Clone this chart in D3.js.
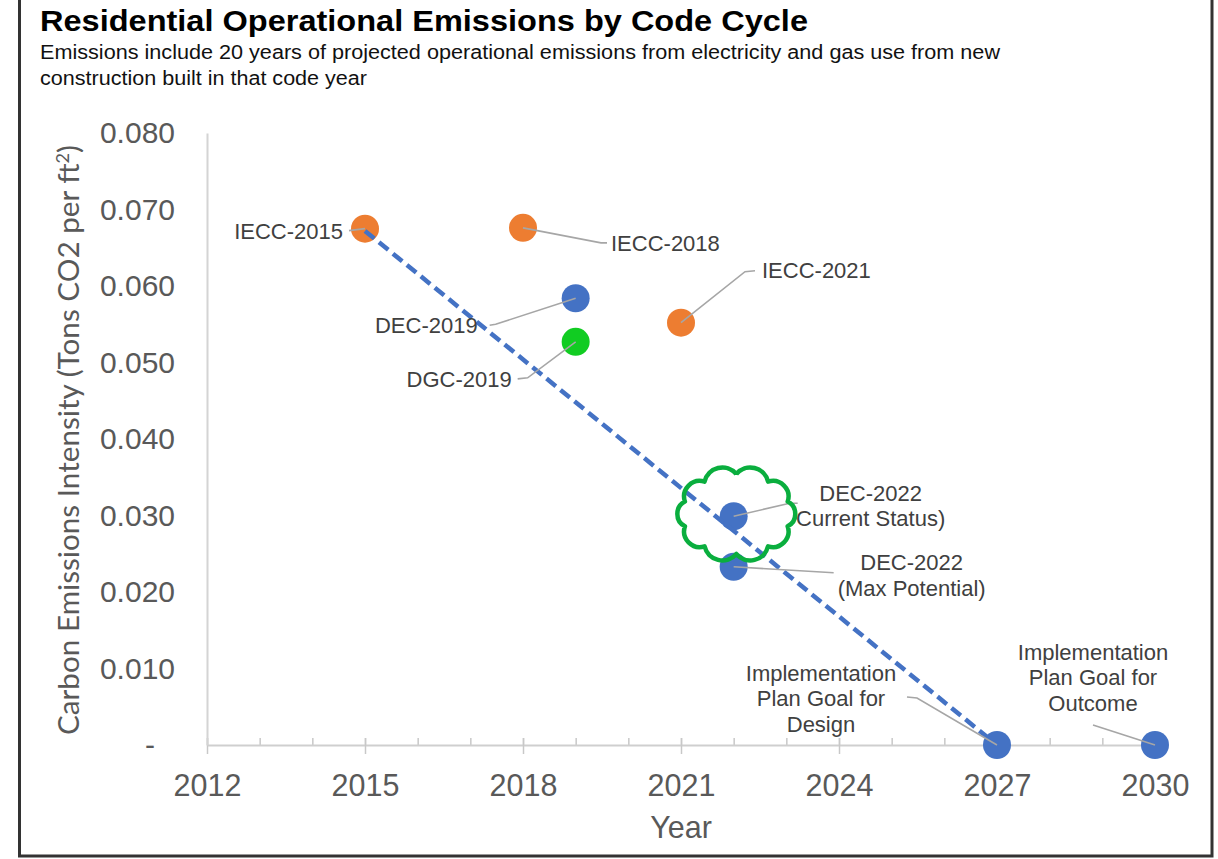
<!DOCTYPE html>
<html>
<head>
<meta charset="utf-8">
<script src="https://cdn.jsdelivr.net/npm/d3@7"></script>
<style>
  body { margin: 0; background: #fff; }
  svg { display: block; }
</style>
</head>
<body>
<svg width="1218" height="859"></svg>
<script>
// chart data
const codes     = ['IECC-2015', 'IECC-2018', 'IECC-2021', 'DEC-2019', 'DGC-2019',
                   'DEC-2022 Current', 'DEC-2022 Max', 'Goal Design', 'Goal Outcome'];
const years     = [2015, 2018, 2021, 2019, 2019, 2022, 2022, 2027, 2030];
const intensity = [0.0675, 0.0676, 0.0552, 0.0584, 0.0527, 0.0299, 0.0233, 0, 0];
const groups    = ['IECC', 'IECC', 'IECC', 'DEC', 'DGC', 'DEC', 'DEC', 'DEC', 'DEC'];
const labelText = [
  ['IECC-2015'], ['IECC-2018'], ['IECC-2021'], ['DEC-2019'], ['DGC-2019'],
  ['DEC-2022', 'Current Status)'], ['DEC-2022', '(Max Potential)'],
  ['Implementation', 'Plan Goal for', 'Design'],
  ['Implementation', 'Plan Goal for', 'Outcome']
];
const trendYears  = [2015, 2027];
const trendValues = [0.0672, 0];
const xTickYears  = [2012, 2015, 2018, 2021, 2024, 2027, 2030];
const yTickValues = [0, 0.01, 0.02, 0.03, 0.04, 0.05, 0.06, 0.07, 0.08];
const cloudAt     = { year: 2022.05, value: 0.0302 };   // the hand drawn cloud

// label placement (pixels relative to the point)
const labelLayout = {
  'IECC-2015':        { anchor: 'end',    dx: -22,  dy: 3,   leader: [[-16, 2], [0, 0]] },
  'IECC-2018':        { anchor: 'start',  dx: 88,   dy: 15,  leader: [[0, 0], [78, 15], [84, 15]] },
  'IECC-2021':        { anchor: 'start',  dx: 81,   dy: -52, leader: [[0, 0], [64, -51], [74, -52]] },
  'DEC-2019':         { anchor: 'end',    dx: -98,  dy: 27,  leader: [[-86, 27], [-80, 26], [0, 0]] },
  'DGC-2019':         { anchor: 'end',    dx: -64,  dy: 37,  leader: [[-58, 37], [-48, 36], [0, 0]] },
  'DEC-2022 Current': { anchor: 'middle', dx: 137,  dy: -23, leader: [[0, 0], [56, -13], [64, -13]] },
  'DEC-2022 Max':     { anchor: 'middle', dx: 178,  dy: -4,  leader: [[0, 0], [100, 6]] },
  'Goal Design':      { anchor: 'middle', dx: -176, dy: -72, leader: [[-90, -48], [-80, -47], [0, 0]] },
  'Goal Outcome':     { anchor: 'middle', dx: -62,  dy: -93, leader: [[-62, -20], [0, 0]] }
};

const colors = { IECC: '#ED7D31', DEC: '#4472C4', DGC: '#11CC22' };

const svg = d3.select('svg');
const width  = +svg.attr('width');
const height = +svg.attr('height');

const x = d3.scaleLinear().domain([2012, 2030]).range([207, 1155]);
const y = d3.scaleLinear().domain([0, 0.08]).range([745, 133]);

// frame round the picture
svg.append('path')
  .attr('d', `M19.5,0 V856 H1212 V0`)
  .attr('fill', 'none')
  .attr('stroke', '#333')
  .attr('stroke-width', 3);

// titles (the source image is stretched a little sideways)
svg.append('text')
  .attr('x', 40).attr('y', 31)
  .attr('textLength', 768).attr('lengthAdjust', 'spacingAndGlyphs')
  .style('font-family', 'Liberation Sans, Arial, sans-serif')
  .style('font-weight', 'bold')
  .style('font-size', '29px')
  .attr('fill', '#000')
  .text('Residential Operational Emissions by Code Cycle');

const sub = svg.append('g')
  .style('font-family', 'Liberation Sans, Arial, sans-serif')
  .style('font-size', '19.5px')
  .attr('fill', '#111');
sub.append('text').attr('x', 40).attr('y', 59)
  .attr('textLength', 960).attr('lengthAdjust', 'spacingAndGlyphs')
  .text('Emissions include 20 years of projected operational emissions from electricity and gas use from new');
sub.append('text').attr('x', 40).attr('y', 85)
  .attr('textLength', 327).attr('lengthAdjust', 'spacingAndGlyphs')
  .text('construction built in that code year');

// x axis: minor ticks every year, major ticks every 3 years
const minorAxis = d3.axisBottom(x).ticks(18).tickSize(-7).tickFormat('');
const minorG = svg.append('g').attr('transform', `translate(0,${y(0)})`).call(minorAxis);
minorG.select('.domain').remove();
minorG.selectAll('.tick line').attr('stroke', '#c8c8c8').attr('stroke-width', 1.5);

const xAxis = d3.axisBottom(x).tickValues(xTickYears).tickFormat(d3.format('d'))
  .tickSizeInner(9).tickSizeOuter(0).tickPadding(20);
const xAxisG = svg.append('g').attr('transform', `translate(0,${y(0)})`).call(xAxis);
xAxisG.select('.domain').attr('stroke', '#cfcfcf').attr('stroke-width', 2);
xAxisG.selectAll('.tick line').attr('stroke', '#c8c8c8').attr('stroke-width', 1.5).attr('y1', -7);
xAxisG.selectAll('.tick text')
  .style('font-family', 'Liberation Sans, Arial, sans-serif')
  .style('font-size', '30.5px')
  .attr('fill', '#595959');

// y axis: line and labels only
const yAxis = d3.axisLeft(y).tickValues(yTickValues)
  .tickFormat(d => d === 0 ? '-' : d3.format('.3f')(d))
  .tickSize(0).tickPadding(32);
const yAxisG = svg.append('g').attr('transform', `translate(${x(2012)},0)`).call(yAxis);
yAxisG.select('.domain').attr('stroke', '#d4d4d4').attr('stroke-width', 2);
yAxisG.selectAll('.tick text')
  .style('font-family', 'Liberation Sans, Arial, sans-serif')
  .style('font-size', '30px')
  .attr('fill', '#595959')
  .attr('dx', d => d === 0 ? -20 : 0);

// axis titles
svg.append('text')
  .attr('text-anchor', 'middle')
  .attr('transform', `translate(79,${(y(0) + y(0.08)) / 2 + 1}) rotate(-90)`)
  .attr('textLength', 590).attr('lengthAdjust', 'spacingAndGlyphs')
  .style('font-family', 'Lato, sans-serif')
  .style('font-size', '28px')
  .attr('fill', '#595959')
  .html('Carbon Emissions Intensity (Tons CO2 per ft<tspan dy="-10" font-size="17">2</tspan><tspan dy="10">)</tspan>');

svg.append('text')
  .attr('text-anchor', 'middle')
  .attr('x', x(2021)).attr('y', 838)
  .style('font-family', 'Liberation Sans, Arial, sans-serif')
  .style('font-size', '30.5px')
  .attr('fill', '#595959')
  .text('Year');

// points
const points = codes.map((c, i) => ({
  code: c, year: years[i], value: intensity[i], group: groups[i], lines: labelText[i]
}));

svg.append('g')
  .selectAll('circle')
  .data(points).enter()
  .append('circle')
    .attr('cx', d => x(d.year))
    .attr('cy', d => y(d.value))
    .attr('r', 14)
    .attr('fill', d => colors[d.group]);

// goal trend line
const trend = trendYears.map((t, i) => [t, trendValues[i]]);
svg.append('path')
  .datum(trend)
  .attr('d', d3.line().x(d => x(d[0])).y(d => y(d[1])))
  .attr('fill', 'none')
  .attr('stroke', '#4472C4')
  .attr('stroke-width', 4.5)
  .attr('stroke-dasharray', '12 6');

// leader lines and labels
const ann = svg.append('g');
points.forEach(d => {
  const L = labelLayout[d.code];
  const px = x(d.year), py = y(d.value);
  ann.append('path')
    .attr('d', d3.line()(L.leader.map(p => [px + p[0], py + p[1]])))
    .attr('fill', 'none')
    .attr('stroke', '#a6a6a6')
    .attr('stroke-width', 1.6);
  const t = ann.append('text')
    .attr('text-anchor', L.anchor)
    .style('font-family', 'Liberation Sans, Arial, sans-serif')
    .style('font-size', '22px')
    .attr('fill', '#404040');
  d.lines.forEach((ln, k) => {
    t.append('tspan')
      .attr('x', px + L.dx)
      .attr('y', py + L.dy + k * 25.5)
      .attr('dy', '0.35em')
      .text(ln);
  });
});

// scalloped cloud drawn round DEC-2022
const cx = x(cloudAt.year), cy = y(cloudAt.value);
const rx = 54, ry = 40, bumps = 10;
const pts = d3.range(bumps).map(i => {
  const a = -Math.PI / 2 + i * 2 * Math.PI / bumps;
  return [cx + rx * Math.cos(a), cy + ry * Math.sin(a)];
});
let cloud = `M${pts[0][0]},${pts[0][1]}`;
pts.forEach((p, i) => {
  const q = pts[(i + 1) % bumps];
  const r = Math.hypot(q[0] - p[0], q[1] - p[1]) * 0.56;
  cloud += ` A${r},${r} 0 0 1 ${q[0]},${q[1]}`;
});
svg.append('path')
  .attr('d', cloud)
  .attr('fill', 'none')
  .attr('stroke', '#0AAE3E')
  .attr('stroke-width', 4.5)
  .attr('stroke-linejoin', 'round');
</script>
</body>
</html>
